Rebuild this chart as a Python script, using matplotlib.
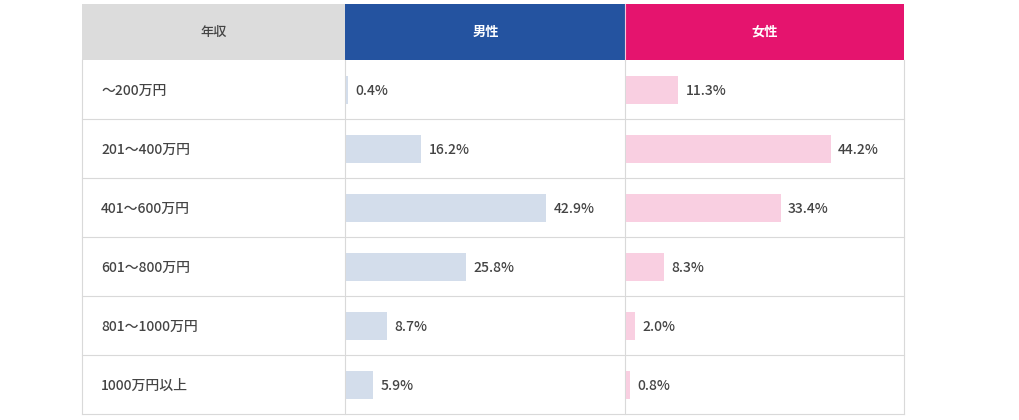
import matplotlib.pyplot as plt
from matplotlib.patches import Rectangle

plt.rcParams['font.family'] = ['Noto Sans CJK JP', 'DejaVu Sans']

# data
categories = ['～200万円', '201～400万円', '401～600万円', '601～800万円', '801～1000万円', '1000万円以上']
male = [0.4, 16.2, 42.9, 25.8, 8.7, 5.9]
female = [11.3, 44.2, 33.4, 8.3, 2.0, 0.8]
headers = ['年収', '男性', '女性']

W, H = 1020, 420
fig = plt.figure(figsize=(W / 100, H / 100), dpi=100)

# background table in pixel space
bg = fig.add_axes([0, 0, 1, 1])
bg.set_xlim(0, W)
bg.set_ylim(H, 0)
bg.axis('off')

left, c1, c2, right = 82, 345.5, 625.5, 904
top, head_bot, row_h = 4, 60, 59
n = len(categories)
bottom = head_bot + n * row_h
grid = '#d9d9d9'

head_colors = ['#dcdcdc', '#2453a0', '#e5146e']
head_text = ['#444444', 'white', 'white']
xs = [left, c1, c2, right]
for k in range(3):
    bg.add_patch(Rectangle((xs[k], top), xs[k + 1] - xs[k], head_bot - top,
                           facecolor=head_colors[k], edgecolor='none'))
    bg.text((xs[k] + xs[k + 1]) / 2, (top + head_bot) / 2, headers[k],
            ha='center', va='center', fontsize=9.5, color=head_text[k],
            fontweight='medium' if k == 0 else 'bold')
bg.plot([c2, c2], [top, head_bot], color='#f6c6d8', lw=0.8)

for i, cat in enumerate(categories):
    y = head_bot + (i + 1) * row_h
    bg.plot([left, right], [y, y], color=grid, lw=0.8)
    bg.text(left + 19, y - row_h / 2 + 1, cat, ha='left', va='center',
            fontsize=10, color='#444444', fontweight='medium')
for x in xs:
    bg.plot([x, x], [head_bot, bottom], color=grid, lw=0.8)

# bar columns
def bar_col(x0, x1, vals, color):
    ax = fig.add_axes([(x0 + 0.5) / W, (H - bottom) / H, (x1 - x0 - 0.5) / W, (bottom - head_bot) / H])
    ax.set_xlim(0, 60)
    ax.set_ylim(n - 0.5, -0.5)
    ax.axis('off')
    ax.patch.set_alpha(0)
    ax.barh(range(n), vals, height=28 / row_h, color=color, left=0)
    for i, v in enumerate(vals):
        ax.text(v + 1.6, i + 0.02, f'{v:.1f}%', ha='left', va='center',
                fontsize=10, color='#444444', fontweight='medium')

bar_col(c1, c2, male, '#d3ddeb')
bar_col(c2, right, female, '#f9cfe1')

fig.savefig('out.png', dpi=100)
